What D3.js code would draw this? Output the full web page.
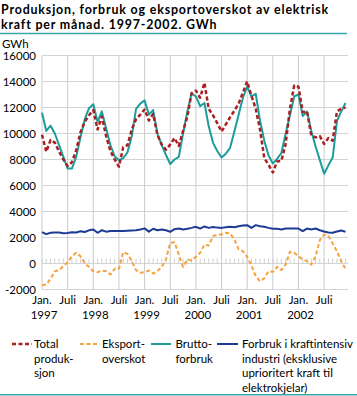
<!DOCTYPE html>
<html><head><meta charset="utf-8">
<script src="https://cdn.jsdelivr.net/npm/d3@7"></script>
<style>body{margin:0;background:#fff} svg{display:block} text{font-family:Lato,'Open Sans',sans-serif;fill:#000}</style>
</head><body><svg id="c" width="357" height="396"></svg>
<script>
// Monthly values, Jan 1997 - Dec 2002 (GWh)
const totalProduksjon = [
 9900, 8600, 9500, 9300, 8600, 8000, 7500, 7800, 8700,10100,10900,11400,
11800,10300,11300, 9800, 8650, 8000, 7450, 8950, 9100,10300,11100,11450,
11850,11000,11500, 9900, 9150, 8750, 9150, 9650, 9050,10200,11300,13100,
13300,12750,13900,11900,11400,10800,10150,10700,11250,11750,12300,13150,
14000,12900,11900,10300, 8100, 7600, 7000, 7850, 7900, 9200,11900,13700,
13600,11650,11700, 9850, 9700, 9800, 9200, 9650, 9450,11700,11900,12000];
const eksportoverskot = [
-1670,-1620,-1180, -590, -520, -200,  100,  560,  820,  560,    0, -260,
 -590, -670, -540, -590, -850, -410, -410,  870,  740,  180, -510, -720,
 -670, -540, -770, -590, -260,  310, 1590, 1640,  690, -260,  310,  230,
  510,  820, 1460, 1380, 2100, 2230, 2230, 2360, 2310, 1850, 1080,  950,
  510, -150, -970,-1360,-1150, -590, -640, -260, -510,  -80,  900,  820,
  560,  310,  180,  -80,  560, 1800, 2230, 2100, 1540,  950,  180, -410];
const bruttoforbruk = [
11600,10200,10600,10000, 9100, 8200, 7300, 7300, 8200, 9700,11100,11950,
12250,10900,11700,10400, 9100, 8250, 7950, 8100, 8550, 9800,11900,12300,
12550,11450,11800,10000, 9100, 8350, 7650, 8000, 8200,10000,11700,13100,
12850,12100,12350,10550, 9300, 8650, 8150, 8450, 8900,10150,11450,12750,
13600,12850,13050,11000, 9450, 8300, 7700, 8050, 8500,10000,11400,12850,
13000,11350,11700,10200, 9000, 7950, 6900, 7550, 8150,10950,11700,12350];
const kraftintensiv = [
2410,2260,2360,2380,2380,2330,2350,2400,2380,2480,2420,2550,
2620,2360,2560,2450,2500,2500,2500,2500,2520,2540,2560,2620,
2700,2450,2670,2560,2620,2560,2440,2640,2690,2620,2670,2740,
2820,2690,2850,2740,2800,2760,2740,2790,2820,2790,2870,2920,
2950,2740,2950,2870,2820,2740,2670,2670,2620,2690,2690,2690,
2690,2490,2690,2620,2690,2560,2460,2380,2360,2460,2540,2440];

const yTicks = [-2000,0,2000,4000,6000,8000,10000,12000,14000,16000];
const xTickMonths = [0,6,12,18,24,30,36,42,48,54,60,66];
const xTickLabels = ["Jan.","Juli","Jan.","Juli","Jan.","Juli","Jan.","Juli","Jan.","Juli","Jan.","Juli"];
const xTickYears  = ["1997","","1998","","1999","","2000","","2001","","2002",""];
const titleLines = ["Produksjon, forbruk og eksportoverskot av elektrisk","kraft per månad. 1997-2002. GWh"];
const unitLabel = "GWh";

const legendItems = [
  {lines:["Total","produk-","sjon"], color:"#a8201f", dash:"4,2.5", w:2.5},
  {lines:["Eksport-","overskot"], color:"#f6a33f", dash:"4,2.5", w:2},
  {lines:["Brutto-","forbruk"], color:"#1a9d9b", dash:null, w:2},
  {lines:["Forbruk i kraftintensiv","industri (eksklusive","uprioritert kraft til","elektrokjelar)"], color:"#1d3b95", dash:null, w:2}
];

const svg = d3.select("#c");
const nMonths = totalProduksjon.length;
const x = d3.scaleLinear().domain([0, nMonths-1]).range([42, 345.5]);
const y = d3.scaleLinear().domain([-2000, 16000]).range([289.5, 55.5]);
const plotRight = 348;

// Title
const tg = svg.append("g");
const tfs = 12.4;
const t1 = tg.append("text").attr("x",1).attr("y",13.5).style("font-weight","bold").style("font-size",tfs+"px").text(titleLines[0]);
const w1 = t1.node().getComputedTextLength();
const ls = Math.max(0, (328 - w1) / titleLines[0].length);
t1.style("letter-spacing", ls+"px");
tg.append("text").attr("x",1).attr("y",28.5).style("font-weight","bold").style("font-size",tfs+"px")
  .style("letter-spacing", ls+"px").text(titleLines[1]);
svg.append("line").attr("x1",0).attr("x2",347).attr("y1",33.5).attr("y2",33.5).attr("stroke","#3aa7a6").attr("stroke-width",1.5);
svg.append("line").attr("x1",0).attr("x2",357).attr("y1",394.8).attr("y2",394.8).attr("stroke","#3aa7a6").attr("stroke-width",1.5);

// Grid
const grid = svg.append("g");
grid.selectAll("line.h").data(yTicks).join("line")
  .attr("x1", x(0)).attr("x2", plotRight)
  .attr("y1", d=>y(d)).attr("y2", d=>y(d))
  .attr("stroke","#d4d4d4").attr("stroke-width",1);
grid.selectAll("line.v").data(xTickMonths).join("line")
  .attr("x1", d=>x(d)).attr("x2", d=>x(d))
  .attr("y1", y(16000)).attr("y2", y(-2000))
  .attr("stroke","#cccccc").attr("stroke-width",1);
// monthly minor ticks on zero line
grid.selectAll("line.m").data(d3.range(nMonths)).join("line")
  .attr("x1", d=>x(d)).attr("x2", d=>x(d))
  .attr("y1", y(0)-5).attr("y2", y(0))
  .attr("stroke","#d0d0d0").attr("stroke-width",1);

// Y labels
svg.append("text").attr("x",2).attr("y",47.5).style("font-size","11.5px").text(unitLabel);
svg.selectAll("text.yt").data(yTicks).join("text")
  .attr("x",36).attr("y", d=>y(d)+4).attr("text-anchor","end").style("font-size","11.5px")
  .text(d=>d);

// X labels
svg.selectAll("text.xt").data(xTickMonths).join("text")
  .attr("x", d=>x(d)).attr("y",303.5).attr("text-anchor","middle").style("font-size","11.5px")
  .text((d,i)=>xTickLabels[i]);
svg.selectAll("text.xy").data(xTickMonths).join("text")
  .attr("x", d=>x(d)+2).attr("y",319).attr("text-anchor","middle").style("font-size","11.5px")
  .text((d,i)=>xTickYears[i]);

// Series
const line = d3.line().x((d,i)=>x(i)).y(d=>y(d));
const series = [
  {data:bruttoforbruk, s:legendItems[2]},
  {data:kraftintensiv, s:legendItems[3]},
  {data:eksportoverskot, s:legendItems[1]},
  {data:totalProduksjon, s:legendItems[0]}
];
series.forEach(o=>{
  svg.append("path").attr("d", line(o.data)).attr("fill","none")
    .attr("stroke", o.s.color).attr("stroke-width", o.s.w)
    .attr("stroke-dasharray", o.s.dash).attr("stroke-linejoin","round");
});

// Legend
const legX = [[12,32,34],[80,100,102],[151,171,175.5],[217,238,242]];
const baseY = [348, 362.5, 377, 391.5];
legendItems.forEach((it,i)=>{
  const g = svg.append("g");
  g.append("line").attr("x1",legX[i][0]).attr("x2",legX[i][1]).attr("y1",344).attr("y2",344)
    .attr("stroke",it.color).attr("stroke-width",it.w).attr("stroke-dasharray",it.dash);
  it.lines.forEach((l,j)=>{
    g.append("text").attr("x",legX[i][2]).attr("y",baseY[j]).style("font-size","11.5px").text(l);
  });
});
</script></body></html>
